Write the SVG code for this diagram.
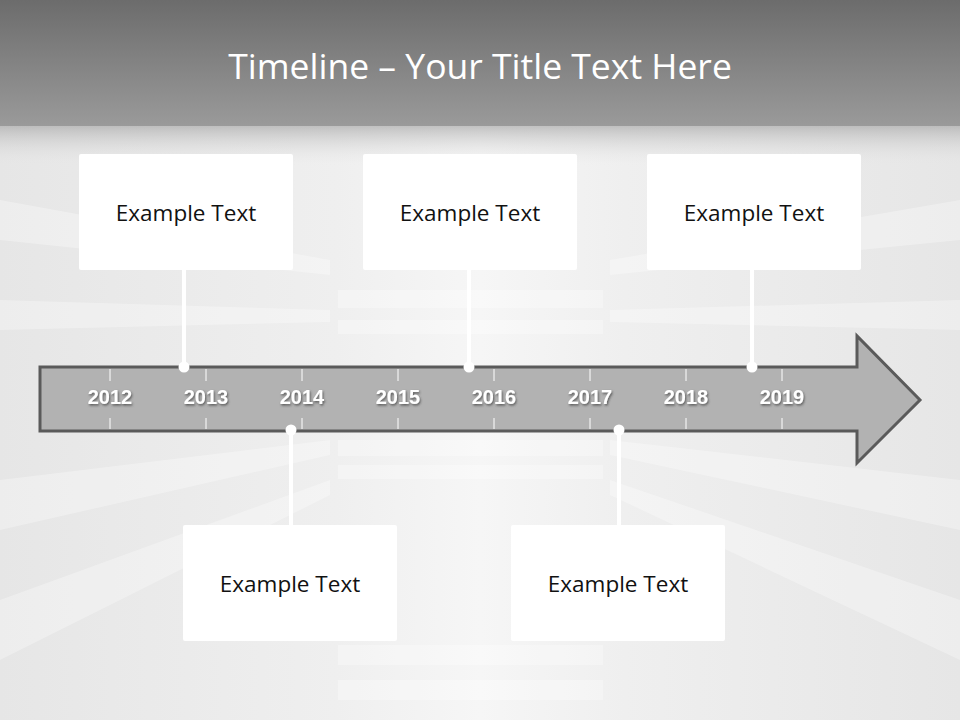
<svg xmlns="http://www.w3.org/2000/svg" width="960" height="720" viewBox="0 0 960 720">
<defs>
<linearGradient id="top" x1="0" y1="0" x2="0" y2="1">
<stop offset="0" stop-color="#6c6c6c"/>
<stop offset="1" stop-color="#9a9a9a"/>
</linearGradient>
<linearGradient id="fade" x1="0" y1="0" x2="0" y2="1">
<stop offset="0" stop-color="#a8a8a8"/>
<stop offset="1" stop-color="#e6e6e6" stop-opacity="0"/>
</linearGradient>
<linearGradient id="bgl" x1="0" y1="0" x2="1" y2="0">
<stop offset="0" stop-color="#e6e6e6"/>
<stop offset="0.35" stop-color="#efefef"/>
<stop offset="0.5" stop-color="#f6f6f6"/>
<stop offset="0.65" stop-color="#efefef"/>
<stop offset="1" stop-color="#e6e6e6"/>
</linearGradient>
<filter id="sh" x="-10%" y="-30%" width="130%" height="160%">
<feDropShadow dx="1" dy="1.5" stdDeviation="0.8" flood-color="#333" flood-opacity="0.7"/>
</filter>
</defs>
<style>
.box{fill:#ffffff}
.lbl{font-family:"Open Sans","Liberation Sans",sans-serif;font-size:22.5px;fill:#111;text-anchor:middle}
.yr{font-family:"Liberation Sans",Arial,sans-serif;font-size:20px;font-weight:bold;fill:#ffffff;text-anchor:middle}
.tick{stroke:#ffffff;stroke-width:1}
.con{stroke:#ffffff;stroke-width:4;fill:none}
.dot{fill:#ffffff}
.streak{fill:#ffffff;opacity:0.3}
</style>
<!-- background -->
<rect x="0" y="0" width="960" height="720" fill="url(#bgl)"/>
<g id="streaks">
<polygon class="streak" points="0,200 330,260 330,275 0,240"/>
<polygon class="streak" points="0,300 330,310 330,322 0,330"/>
<polygon class="streak" points="0,480 330,440 330,455 0,530"/>
<polygon class="streak" points="0,600 330,480 330,495 0,660"/>
<polygon class="streak" points="960,200 610,260 610,275 960,240"/>
<polygon class="streak" points="960,300 610,310 610,322 960,330"/>
<polygon class="streak" points="960,480 610,440 610,455 960,530"/>
<polygon class="streak" points="960,600 610,480 610,495 960,660"/>
<rect class="streak" x="338" y="290" width="265" height="18"/>
<rect class="streak" x="338" y="320" width="265" height="14"/>
<rect class="streak" x="338" y="440" width="265" height="16"/>
<rect class="streak" x="338" y="465" width="265" height="14"/>
<rect class="streak" x="338" y="645" width="265" height="20"/>
<rect class="streak" x="338" y="680" width="265" height="20"/>
</g>
<rect x="0" y="125" width="960" height="40" fill="url(#fade)" opacity="0.7"/>
<rect x="0" y="0" width="960" height="126" fill="url(#top)"/>
<text x="480" y="79" font-family="Open Sans,Liberation Sans,sans-serif" font-size="35.5" fill="#ffffff" text-anchor="middle">Timeline – Your Title Text Here</text>
<!-- arrow -->
<g id="arrow">
<polygon points="40,367 857,367 857,336 920,400 857,463 857,431 40,431" fill="#b2b2b2" stroke="#5a5a5a" stroke-width="3" stroke-linejoin="miter"/>
<g class="tick">
<line x1="110" y1="369" x2="110" y2="381"/><line x1="110" y1="418" x2="110" y2="429"/>
<line x1="206" y1="369" x2="206" y2="381"/><line x1="206" y1="418" x2="206" y2="429"/>
<line x1="302" y1="369" x2="302" y2="381"/><line x1="302" y1="418" x2="302" y2="429"/>
<line x1="398" y1="369" x2="398" y2="381"/><line x1="398" y1="418" x2="398" y2="429"/>
<line x1="494" y1="369" x2="494" y2="381"/><line x1="494" y1="418" x2="494" y2="429"/>
<line x1="590" y1="369" x2="590" y2="381"/><line x1="590" y1="418" x2="590" y2="429"/>
<line x1="686" y1="369" x2="686" y2="381"/><line x1="686" y1="418" x2="686" y2="429"/>
<line x1="782" y1="369" x2="782" y2="381"/><line x1="782" y1="418" x2="782" y2="429"/>
</g>
<g filter="url(#sh)">
<text class="yr" x="110" y="404">2012</text>
<text class="yr" x="206" y="404">2013</text>
<text class="yr" x="302" y="404">2014</text>
<text class="yr" x="398" y="404">2015</text>
<text class="yr" x="494" y="404">2016</text>
<text class="yr" x="590" y="404">2017</text>
<text class="yr" x="686" y="404">2018</text>
<text class="yr" x="782" y="404">2019</text>
</g>
</g>
<!-- connectors -->
<g id="connectors">
<line class="con" x1="184" y1="270" x2="184" y2="366"/><circle class="dot" cx="184" cy="367" r="5.5"/>
<line class="con" x1="469" y1="270" x2="469" y2="366"/><circle class="dot" cx="469" cy="367" r="5.5"/>
<line class="con" x1="752" y1="270" x2="752" y2="366"/><circle class="dot" cx="752" cy="367" r="5.5"/>
<line class="con" x1="291" y1="431" x2="291" y2="525"/><circle class="dot" cx="291" cy="430" r="5.5"/>
<line class="con" x1="619" y1="431" x2="619" y2="525"/><circle class="dot" cx="619" cy="430" r="5.5"/>
</g>
<!-- nodes -->
<g id="node1"><rect class="box" x="79" y="154" width="214" height="116" rx="2"/><text class="lbl" x="186" y="221">Example Text</text></g>
<g id="node2"><rect class="box" x="363" y="154" width="214" height="116" rx="2"/><text class="lbl" x="470" y="221">Example Text</text></g>
<g id="node3"><rect class="box" x="647" y="154" width="214" height="116" rx="2"/><text class="lbl" x="754" y="221">Example Text</text></g>
<g id="node4"><rect class="box" x="183" y="525" width="214" height="116" rx="2"/><text class="lbl" x="290" y="592">Example Text</text></g>
<g id="node5"><rect class="box" x="511" y="525" width="214" height="116" rx="2"/><text class="lbl" x="618" y="592">Example Text</text></g>
</svg>
